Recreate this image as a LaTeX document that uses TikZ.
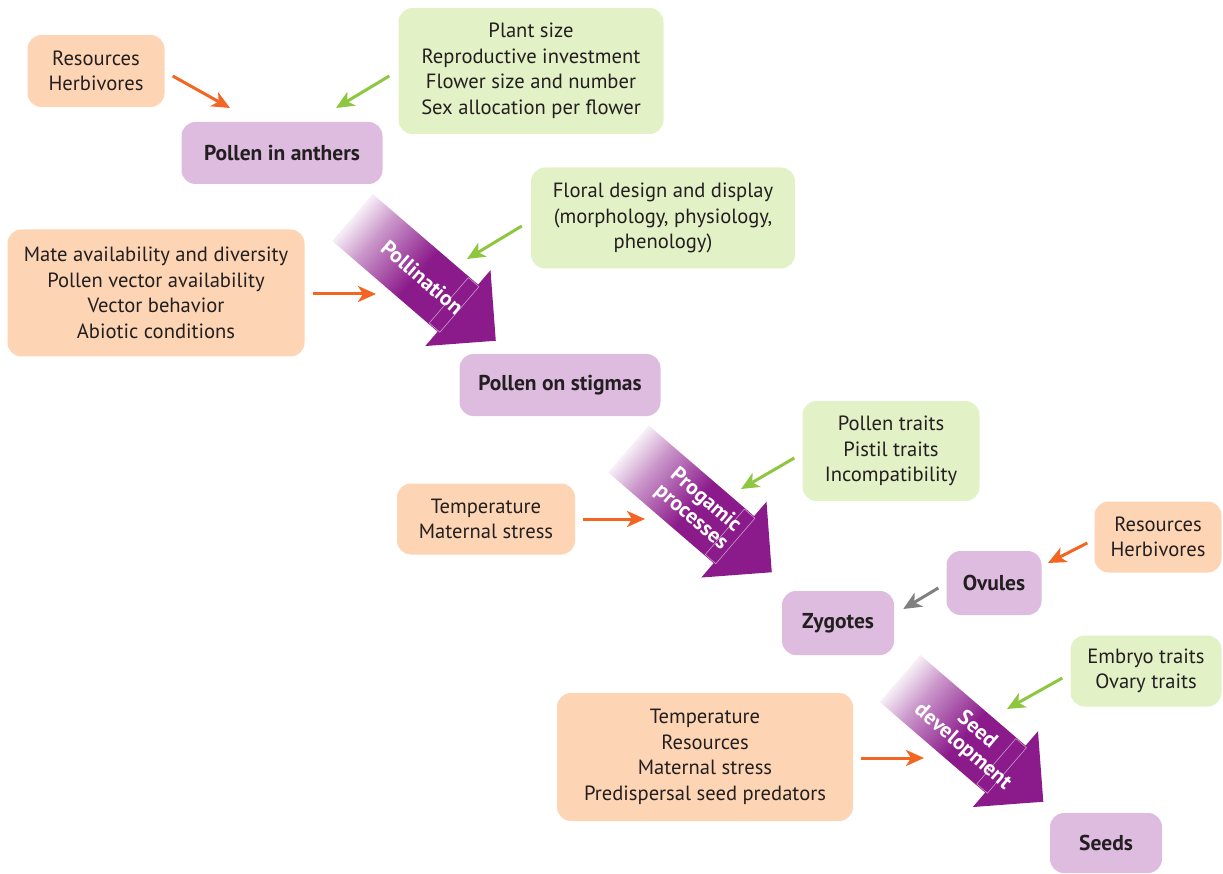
\documentclass[tikz,border=0pt]{standalone}
\usepackage{fontspec}
\setmainfont{PT Sans}
\usetikzlibrary{arrows.meta}

\definecolor{boxorange}{RGB}{253,213,180}
\definecolor{boxgreen}{RGB}{227,241,198}
\definecolor{boxpurple}{RGB}{221,188,224}
\definecolor{arrorange}{RGB}{242,101,34}
\definecolor{arrgreen}{RGB}{141,198,63}
\definecolor{arrgrey}{RGB}{128,128,128}
\definecolor{stagepurple}{RGB}{139,26,139}
\definecolor{inktext}{RGB}{35,31,32}

% the path's box covers 25bp..75bp of the shading
\pgfdeclarehorizontalshading{stageshade}{100bp}{%
	color(0bp)=(white!95!stagepurple); color(25bp)=(white!93!stagepurple);
	color(33bp)=(white!55!stagepurple); color(48bp)=(stagepurple);
	color(100bp)=(stagepurple)}

\tikzset{
	factor/.style={rounded corners=14pt, align=center, text=inktext, inner sep=0pt,
		font=\fontsize{20.6}{25.5}\selectfont},
	abiotic/.style={factor, fill=boxorange},
	plant/.style={factor, fill=boxgreen},
	stage/.style={factor, fill=boxpurple, font=\fontsize{21.5}{24}\selectfont\bfseries},
	stagetext/.style={align=center, text=white, inner sep=0pt,
		font=\fontsize{21.5}{22}\selectfont\bfseries},
	push/.style={line width=3pt, -{Stealth[length=18pt,width=16pt,inset=5pt]}},
}

% big process arrow: #1 start centre, #2 name, #3 label
\newcommand{\stagearrow}[3]{%
	\begin{scope}[transform canvas={shift={#1}, rotate=-40.7}]
		\shade[shading=stageshade] (0,-31) -- (139,-31) -- (139,-50) -- (189,0) -- (139,50) -- (139,31) -- (0,31) -- cycle;
		\draw[white!55!stagepurple, line width=0.6pt] (127,-30) rectangle (141,30);
	\end{scope}
	\begin{scope}[shift={#1}, rotate=-40.7]
		\node[stagetext, rotate=-40.7] (#2) at (92,0) {#3};
	\end{scope}}

\begin{document}
\begin{tikzpicture}[x=1pt,y=-1pt]
	\useasboundingbox (0,0) rectangle (1223,874);

	% stages
	\node[stage, minimum width=201, minimum height=62] (anthers) at (282,153) {Pollen in anthers};
	\node[stage, minimum width=201, minimum height=62] (stigmas) at (560,385) {Pollen on stigmas};
	\node[stage, minimum width=95, minimum height=64] (ovules) at (994,583) {Ovules};
	\node[stage, minimum width=112, minimum height=64] (zygotes) at (838,623) {Zygotes};
	\node[stage, minimum width=112, minimum height=60] (seeds) at (1106,843) {Seeds};

	% big arrows
	\stagearrow{(352.5,217.5)}{pollination}{Pollination}
	\stagearrow{(628.5,449)}{progamic}{Progamic\\processes}
	\stagearrow{(900,678.5)}{seeddev}{Seed\\development}

	% factors
	\node[abiotic, minimum width=137, minimum height=72] (res1) at (96,71) {Resources\\Herbivores};
	\node[plant, minimum width=265, minimum height=126] (plantsize) at (531,71) {Plant size\\Reproductive investment\\Flower size and number\\Sex allocation per flower};
	\node[plant, minimum width=264, minimum height=101] (floral) at (663,218) {Floral design and display\\(morphology, physiology,\\phenology)};
	\node[abiotic, minimum width=297, minimum height=127] (mate) at (156,293) {Mate availability and diversity\\Pollen vector availability\\Vector behavior\\Abiotic conditions};
	\node[plant, minimum width=177, minimum height=100] (pistil) at (891,451) {Pollen traits\\Pistil traits\\Incompatibility};
	\node[abiotic, minimum width=178, minimum height=71] (temp1) at (486,519) {Temperature\\Maternal stress};
	\node[abiotic, minimum width=127, minimum height=71] (res2) at (1158,537) {Resources\\Herbivores};
	\node[plant, minimum width=151, minimum height=71] (embryo) at (1146,671) {Embryo traits\\Ovary traits};
	\node[abiotic, minimum width=296, minimum height=128] (temp2) at (705,757) {Temperature\\Resources\\Maternal stress\\Predispersal seed predators};

	% arrow ends
	\coordinate (e1) at (230,108);
	\coordinate (e2) at (336,108);
	\coordinate (e3) at (467,259);
	\coordinate (e4) at (376,294);
	\coordinate (e5) at (741,489);
	\coordinate (e6) at (645,519);
	\coordinate (e7) at (1048,563);
	\coordinate (e9) at (1007,709);
	\coordinate (e10) at (924,758);

	\draw[push, arrorange] ([shift={(8,5)}]res1.east) -- (e1);
	\draw[push, arrgreen] ([shift={(-9,5)}]plantsize.west) -- (e2);
	\draw[push, arrgreen] ([shift={(-9,8)}]floral.west) -- (e3);
	\draw[push, arrorange] ([shift={(8,1)}]mate.east) -- (e4);
	\draw[push, arrgreen] ([shift={(-8,7)}]pistil.west) -- (e5);
	\draw[push, arrorange] ([shift={(8,0)}]temp1.east) -- (e6);
	\draw[push, arrorange] ([shift={(-7,6)}]res2.west) -- (e7);
	\draw[push, arrgrey] ([shift={(-8,5)}]ovules.west) -- ([shift={(9,-14)}]zygotes.east);
	\draw[push, arrgreen] ([shift={(-8,7)}]embryo.west) -- (e9);
	\draw[push, arrorange] ([shift={(8,1)}]temp2.east) -- (e10);
\end{tikzpicture}
\end{document}
